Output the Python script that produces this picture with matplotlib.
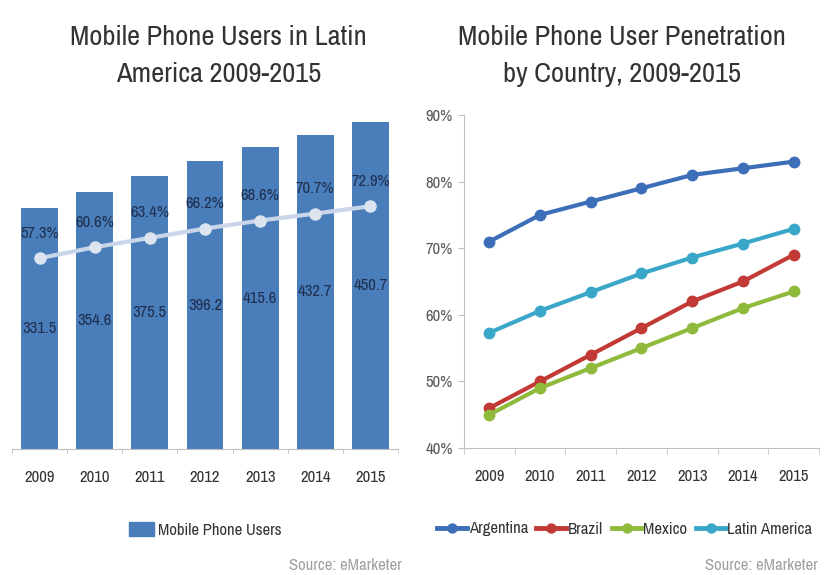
import numpy as np
import matplotlib.pyplot as plt
from matplotlib.patches import Patch
from matplotlib.lines import Line2D
from matplotlib.ticker import FuncFormatter

# Data
years = ["2009", "2010", "2011", "2012", "2013", "2014", "2015"]
users_mn = [331.5, 354.6, 375.5, 396.2, 415.6, 432.7, 450.7]
latam_pct = [57.3, 60.6, 63.4, 66.2, 68.6, 70.7, 72.9]
argentina_pct = [71, 75, 77, 79, 81, 82, 83]
brazil_pct = [46, 50, 54, 58, 62, 65, 69]
mexico_pct = [45, 49, 52, 55, 58, 61, 63.5]

plt.rcParams['font.family'] = ['Archivo Narrow', 'Liberation Sans', 'DejaVu Sans']

bar_color = "#4a7ebb"
grey_txt = "#595959"
axis_grey = "#bfbfbf"
title_color = "#333333"
label_color = "#1f2f4f"

fig = plt.figure(figsize=(8.24, 5.75), dpi=100)
x = np.arange(len(years))

# === Left: users bar chart with penetration line ===
ax1 = fig.add_axes([0.0146, 0.2191, 0.4684, 0.5896])
ax1.bar(x, users_mn, width=0.67, color=bar_color, zorder=2)
ax1.set_xlim(-0.5, 6.5)
ax1.set_ylim(0, 467)
for s in ["top", "right", "left"]:
    ax1.spines[s].set_visible(False)
ax1.spines["bottom"].set_color(axis_grey)
ax1.set_yticks([])
ax1.set_xticks(x)
ax1.set_xticklabels(years, fontsize=12, color="#333333")
ax1.tick_params(axis="x", which="major", length=0, pad=15)
ax1.set_xticks(np.arange(-0.5, 7, 1), minor=True)
ax1.tick_params(axis="x", which="minor", length=3, color=axis_grey)
for xi, v in zip(x, users_mn):
    ax1.text(xi, v / 2, f"{v:.1f}", ha="center", va="center",
             fontsize=12, color=label_color, zorder=4)

ax1b = ax1.twinx()
ax1b.set_ylim(0, 101.8)
ax1b.plot(x, latam_pct, color="#c9d5e8", lw=3, marker="o", ms=8,
          mfc="#dce4f0", mec="#dce4f0", zorder=3)
ax1b.axis("off")
for xi, v in zip(x, latam_pct):
    ax1b.text(xi, v + 7.5, f"{v:.1f}%", ha="center", va="center",
              fontsize=12, color=label_color)

fig.text(0.265, 0.9217, "Mobile Phone Users in Latin", ha="center", va="baseline",
         fontsize=20.5, color=title_color)
fig.text(0.265, 0.8574, "America 2009-2015", ha="center", va="baseline",
         fontsize=20.5, color=title_color)
fig.legend(handles=[Patch(color=bar_color, label="Mobile Phone Users")],
           loc="center", bbox_to_anchor=(0.249, 0.078), frameon=False,
           fontsize=12, handlelength=1.5, handleheight=0.9, handletextpad=0.2,
           labelcolor="#333333")
fig.text(0.488, 0.016, "Source: eMarketer", ha="right", va="center",
         fontsize=12, color="#a0a0a0")

# === Right: penetration by country ===
ax2 = fig.add_axes([0.5631, 0.2209, 0.4308, 0.5791])
series = [
    ("Argentina", argentina_pct, "#3d6fb8"),
    ("Brazil", brazil_pct, "#c23a36"),
    ("Mexico", mexico_pct, "#8fba3c"),
    ("Latin America", latam_pct, "#3aa7c9"),
]
handles = []
for name, vals, col in series:
    ax2.plot(x, vals, color=col, lw=3, marker="o", ms=7.5, zorder=3)
    handles.append(Line2D([], [], color=col, lw=3.5, marker="o", ms=6.5, label=name))
ax2.set_xlim(-0.5, 6.5)
ax2.set_ylim(40, 90)
ax2.set_yticks(range(40, 91, 10))
ax2.yaxis.set_major_formatter(FuncFormatter(lambda v, p: f"{v:.0f}%"))
ax2.tick_params(axis="y", length=4, color=axis_grey, labelsize=12,
                labelcolor=grey_txt, pad=4)
for s in ["top", "right"]:
    ax2.spines[s].set_visible(False)
ax2.spines["left"].set_color(axis_grey)
ax2.spines["bottom"].set_color(axis_grey)
ax2.set_xticks(x)
ax2.set_xticklabels(years, fontsize=12, color="#333333")
ax2.tick_params(axis="x", which="major", length=0, pad=15)
ax2.set_xticks(np.arange(-0.5, 7, 1), minor=True)
ax2.tick_params(axis="x", which="minor", length=4, color=axis_grey)

fig.text(0.755, 0.9217, "Mobile Phone User Penetration", ha="center", va="baseline",
         fontsize=20.5, color=title_color)
fig.text(0.755, 0.8574, "by Country, 2009-2015", ha="center", va="baseline",
         fontsize=20.5, color=title_color)
fig.legend(handles=handles, loc="center", bbox_to_anchor=(0.758, 0.08),
           ncol=4, frameon=False, fontsize=12, handlelength=1.8,
           handletextpad=0.1, columnspacing=0.5, labelcolor="#333333")
fig.text(0.993, 0.016, "Source: eMarketer", ha="right", va="center",
         fontsize=12, color="#a0a0a0")

fig.savefig("out.png", dpi=100)
